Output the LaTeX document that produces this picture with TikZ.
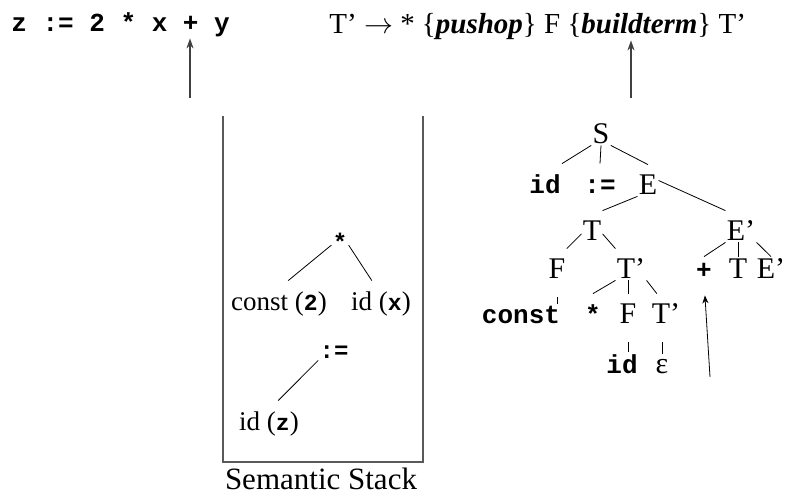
\RequirePackage{fix-cm}
\documentclass[tikz,border=0pt]{standalone}
\usepackage{fontspec}
\setmainfont{Liberation Serif}
\setmonofont{Liberation Mono}
\usetikzlibrary{arrows.meta}
\newcommand{\ctt}[1]{{\fontsize{23}{27}\selectfont\ttfamily\bfseries #1}}
\tikzset{
  nt/.style={font=\fontsize{30}{34}\selectfont, inner sep=1pt, text height=28pt, text depth=1pt, anchor=base},
  tok/.style={nt, font=\fontsize{26}{30}\selectfont\ttfamily\bfseries},
  stk/.style={nt, font=\fontsize{27}{31}\selectfont},
  stktok/.style={nt, font=\fontsize{24}{28}\selectfont\ttfamily\bfseries},
  dropedge/.style={shorten <=17pt},
  ptr/.style={-{Stealth[length=10pt,width=7pt]}, line width=1.5pt, black!75},
  stackline/.style={line width=2pt, black!65},
}
\begin{document}
\begin{tikzpicture}[x=1pt, y=-1pt, line width=0.8pt]
  \useasboundingbox (0,0) rectangle (788,498);
  % input string and current production
  \node[tok, anchor=base west, text depth=6pt] (inp) at (10,31) {z := 2 * x + y};
  \node[nt, font=\fontsize{29}{33}\selectfont, anchor=base west, text depth=6pt] (rule) at (328,33)
    {T’ $\rightarrow$ * \{\textbf{\textit{pushop}}\} F \{\textbf{\textit{buildterm}}\} T’};
  \coordinate (inptr) at (190,98);
  \coordinate (actptr) at (631,98);
  \draw[ptr] (inptr) -- (inptr |- inp.south);
  \draw[ptr] (actptr) -- (actptr |- rule.south);

  % semantic stack
  \draw[stackline] (223,116) -- (223,462) -- (423,462) -- (423,116);
  \node[stktok] (mul) at (340,250) {*};
  \node[stk] (cnst) at (279,310) {const (\ctt{2})};
  \node[stk] (idx) at (381,310) {id (\ctt{x})};
  \node[stktok] (asgB) at (334,358) {:=};
  \node[stk] (idz) at (269,430) {id (\ctt{z})};
  \draw (mul.225) -- (cnst.60);
  \draw (mul.315) -- (idx.120);
  \draw (asgB.south west) -- (idz.60);
  \node[nt, font=\fontsize{31}{35}\selectfont] (stklabel) at (321,489) {Semantic Stack};

  % parse tree
  \node[nt] (S) at (601,143) {S};
  \node[tok] (idA) at (545,193) {id};
  \node[tok] (asgA) at (600,193) {:=};
  \node[nt] (E) at (648,194) {E};
  \node[nt] (T) at (592,240) {T};
  \node[nt] (Ep) at (741,240) {E’};
  \node[nt] (F) at (557,278) {F};
  \node[nt] (Tp) at (631,278) {T’};
  \node[tok, text height=20pt] (plus) at (704,278) {+};
  \node[nt, text height=20pt] (Tb) at (738,278) {T};
  \node[nt, text height=20pt] (Epb) at (771,278) {E’};
  \node[tok, text height=18pt] (cst) at (521,323) {const};
  \node[tok] (star) at (593,323) {*};
  \node[nt] (Fb) at (628,323) {F};
  \node[nt] (Tpb) at (666,323) {T’};
  \node[tok, text height=20pt] (idB) at (622,373) {id};
  \node[nt, text height=18pt] (eps) at (662,373) {ε};
  \draw (S.south west) -- (idA.north east);
  \draw (S.south) -- (asgA.north);
  \draw (S.south east) -- (E.north);
  \draw (E.south west) -- (T.north east);
  \draw (E.east) -- (Ep.north west);
  \draw (T.215) -- (F.north east);
  \draw (T.325) -- (Tp.north west);
  \draw (Ep.south west) -- (plus.north);
  \draw (Tb.north |- Ep.south) -- (Tb.north);
  \draw (Ep.south east) -- (Epb.north);
  \draw[dropedge] (F.south) -- (F.south |- cst.north);
  \draw (Tp.south west) -- (star.north);
  \draw (Fb.north |- Tp.south) -- (Fb.north);
  \draw (Tp.south east) -- (Tpb.120);
  \draw[dropedge] (Fb.south) -- (Fb.south |- idB.north);
  \draw[dropedge] (eps.north |- Tpb.south) -- (eps.north);
  \coordinate (treeptr) at (710,377);
  \draw[-{Stealth[length=8pt,width=6pt]}, shorten >=15pt] (treeptr) -- (plus.south);
\end{tikzpicture}
\end{document}
